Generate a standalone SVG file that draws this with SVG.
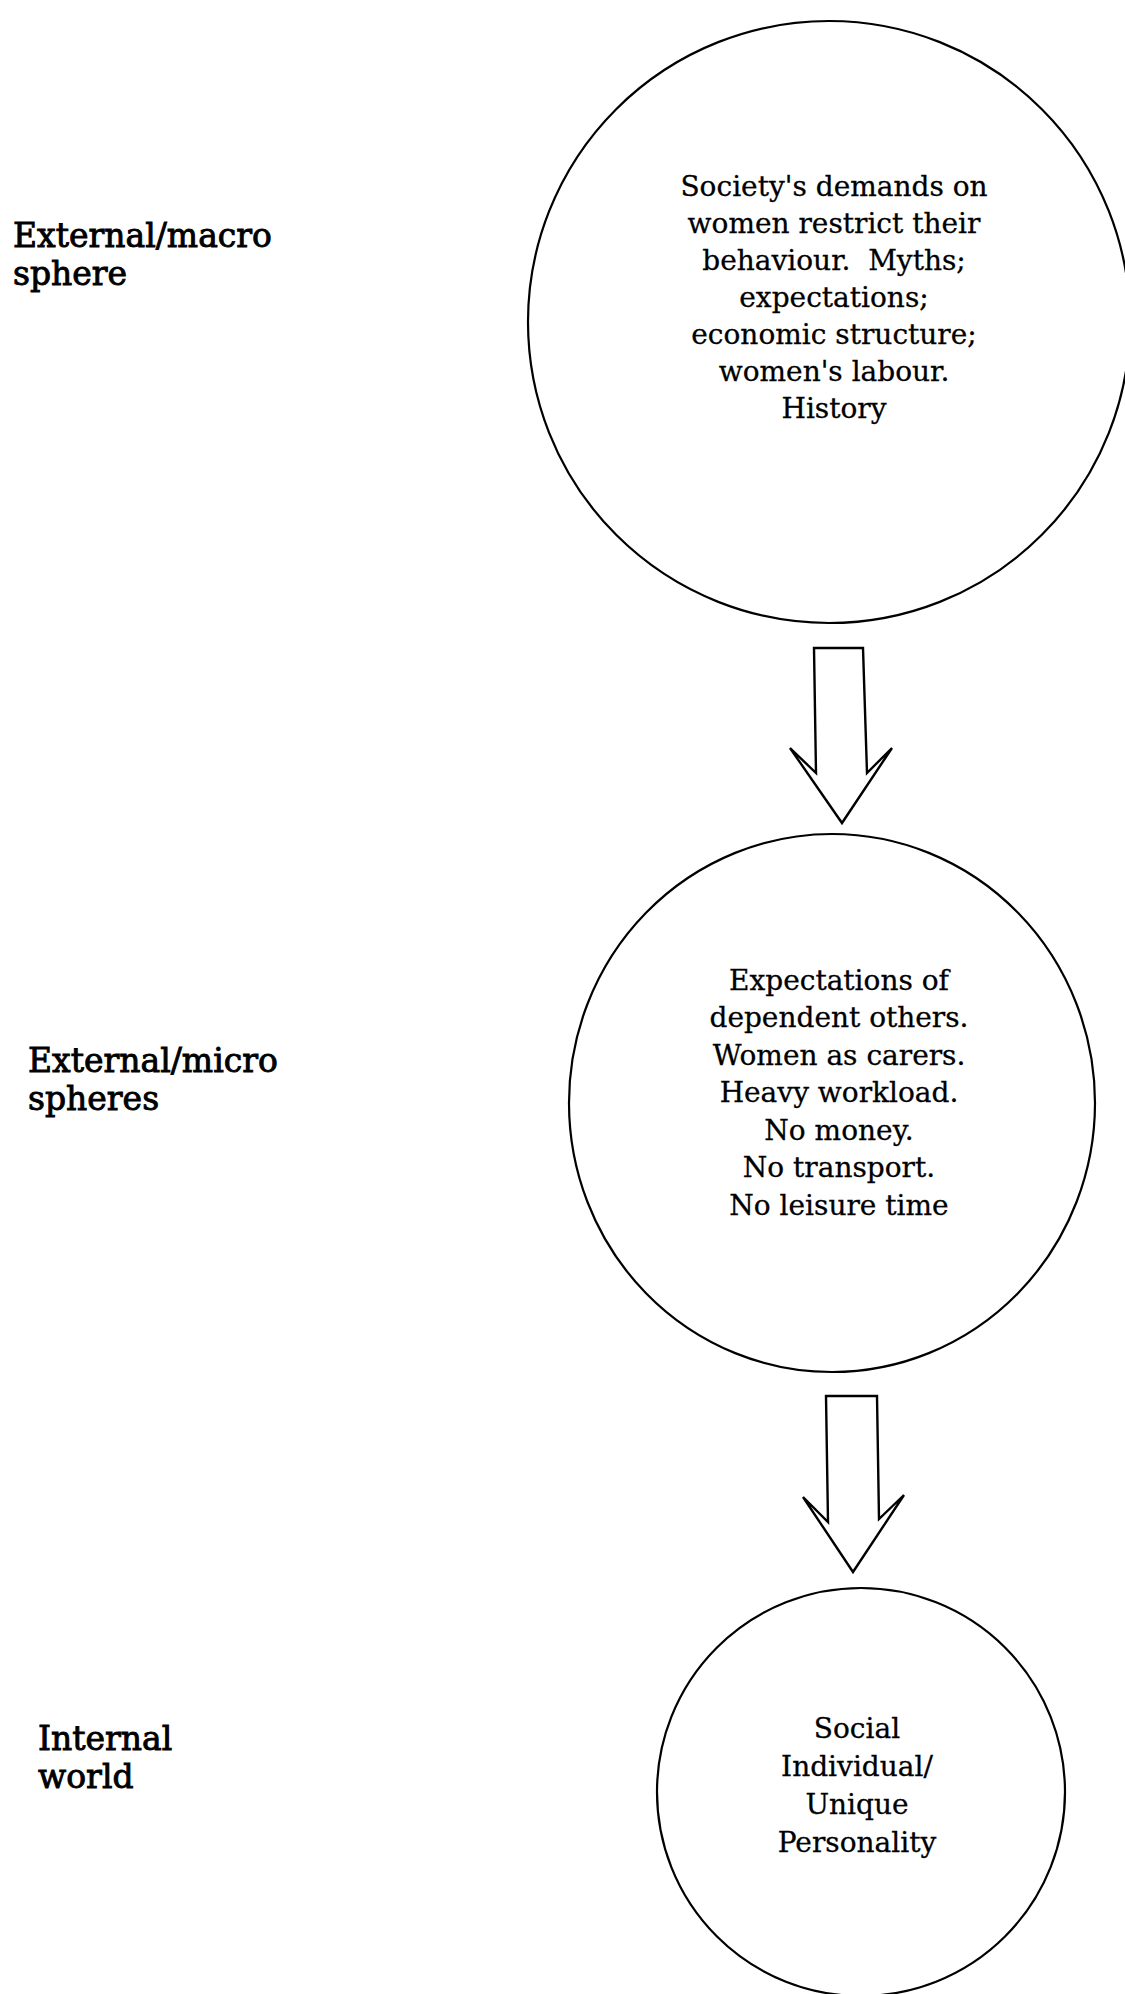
<svg xmlns="http://www.w3.org/2000/svg" width="1125" height="1994" viewBox="0 0 1125 1994">
<style>
.bg{fill:#ffffff}
.node{fill:none;stroke:#000;stroke-width:2.2}
.arrow{fill:#fff;stroke:#000;stroke-width:2.4;stroke-linejoin:miter}
.t{font-family:"DejaVu Serif","Liberation Serif",serif;font-size:28px;fill:#000;stroke:#000;stroke-width:0.3;text-anchor:middle}
.lab{font-family:"DejaVu Serif","Liberation Serif",serif;font-size:33px;fill:#000;stroke:#000;stroke-width:0.9}
</style>
<rect class="bg" x="0" y="0" width="1125" height="1994"/>
<g id="label-macro">
<text class="lab" x="13" y="247">External/macro</text>
<text class="lab" x="13" y="285">sphere</text>
</g>
<g id="label-micro">
<text class="lab" x="28" y="1072">External/micro</text>
<text class="lab" x="28" y="1110">spheres</text>
</g>
<g id="label-internal">
<text class="lab" x="38" y="1750">Internal</text>
<text class="lab" x="38" y="1788">world</text>
</g>
<g id="node-macro">
<circle class="node" cx="829" cy="322" r="301"/>
<text class="t" x="834" y="196">Society's demands on</text>
<text class="t" x="834" y="233">women restrict their</text>
<text class="t" x="834" y="270" xml:space="preserve">behaviour.  Myths;</text>
<text class="t" x="834" y="307">expectations;</text>
<text class="t" x="834" y="344">economic structure;</text>
<text class="t" x="834" y="381">women's labour.</text>
<text class="t" x="834" y="418">History</text>
</g>
<g id="node-micro">
<ellipse class="node" cx="832" cy="1103" rx="263" ry="269"/>
<text class="t" x="839" y="990">Expectations of</text>
<text class="t" x="839" y="1027">dependent others.</text>
<text class="t" x="839" y="1065">Women as carers.</text>
<text class="t" x="839" y="1102">Heavy workload.</text>
<text class="t" x="839" y="1140">No money.</text>
<text class="t" x="839" y="1177">No transport.</text>
<text class="t" x="839" y="1215">No leisure time</text>
</g>
<g id="node-internal">
<circle class="node" cx="861" cy="1792" r="204"/>
<text class="t" x="857" y="1738">Social</text>
<text class="t" x="857" y="1776">Individual/</text>
<text class="t" x="857" y="1814">Unique</text>
<text class="t" x="857" y="1852">Personality</text>
</g>
<g id="connectors">
<polygon class="arrow" points="814,648 863,648 867,773 892,748 842,823 790,748 816,773"/>
<polygon class="arrow" points="826,1396 877,1396 879,1519 904,1495 853,1572 803,1497 828,1522"/>
</g>
</svg>
